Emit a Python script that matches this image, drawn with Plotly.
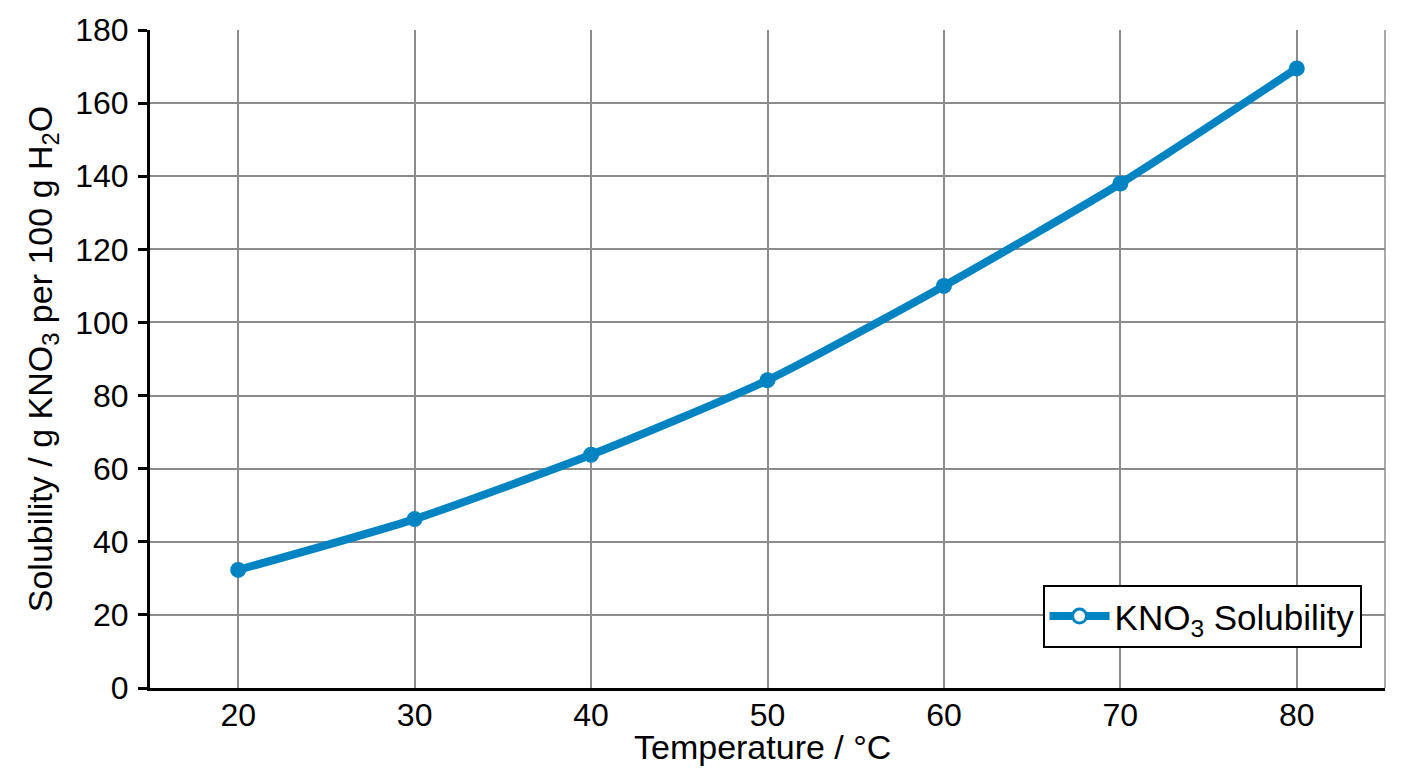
import plotly.graph_objects as go

temperature = [20, 30, 40, 50, 60, 70, 80]
solubility = [32.3, 46.2, 63.8, 84.2, 110.0, 138.0, 169.5]

x_ticks = [20, 30, 40, 50, 60, 70, 80]
y_ticks = [0, 20, 40, 60, 80, 100, 120, 140, 160, 180]

blue = '#0284c3'
font = 'Liberation Sans, Arial, sans-serif'

fig = go.Figure()

fig.add_trace(go.Scatter(
    x=temperature, y=solubility,
    mode='lines+markers',
    line=dict(color=blue, width=8, shape='spline', smoothing=0.6),
    marker=dict(color=blue, size=16),
    showlegend=False,
))

# legend entry only: hollow marker like the original
fig.add_trace(go.Scatter(
    x=[None], y=[None],
    mode='lines+markers',
    name='KNO<sub>3</sub> Solubility',
    line=dict(color=blue, width=8),
    marker=dict(color='white', size=14, line=dict(color=blue, width=3)),
))

fig.update_layout(
    width=1392, height=760,
    margin=dict(l=142, r=15, t=22, b=80),
    paper_bgcolor='white',
    plot_bgcolor='white',
    font=dict(family=font, size=32, color='black'),
    legend=dict(
        x=0.981, y=0.061, xanchor='right', yanchor='bottom',
        bordercolor='black', borderwidth=2, bgcolor='white',
        itemwidth=60,
        font=dict(family=font, size=35, color='black'),
    ),
    shapes=[dict(type='line', xref='paper', yref='paper', x0=1, x1=1, y0=0, y1=1,
                 line=dict(color='#8c8c8c', width=1.5))],
    # x title as annotation so it can sit a little lower than the axis allows
    annotations=[dict(text='Temperature / °C', xref='paper', yref='paper',
                      x=0.496, y=-0.089, xanchor='center', yanchor='middle',
                      showarrow=False, font=dict(family=font, size=34, color='black'))],
)

fig.update_xaxes(
    range=[15, 85],
    tickvals=x_ticks,
    tickfont=dict(family=font, size=32, color='black'),
    showgrid=True, gridcolor='#8c8c8c', gridwidth=1.5,
    showline=True, linecolor='black', linewidth=3,
    ticks='', zeroline=False, automargin=False,
    ticklabelstandoff=-3,
)
fig.update_yaxes(
    range=[0, 180],
    tickvals=y_ticks,
    tickfont=dict(family=font, size=32, color='black'),
    showgrid=True, gridcolor='#8c8c8c', gridwidth=1.5,
    showline=True, linecolor='black', linewidth=3,
    ticks='outside', ticklen=9, tickwidth=2.5, tickcolor='black',
    zeroline=False, automargin=False,
    ticklabelstandoff=3,
    title=dict(text='Solubility / g KNO<sub>3</sub> per 100 g H<sub>2</sub>O', standoff=13,
               font=dict(family=font, size=34)),
)

fig.write_html('out.html')
